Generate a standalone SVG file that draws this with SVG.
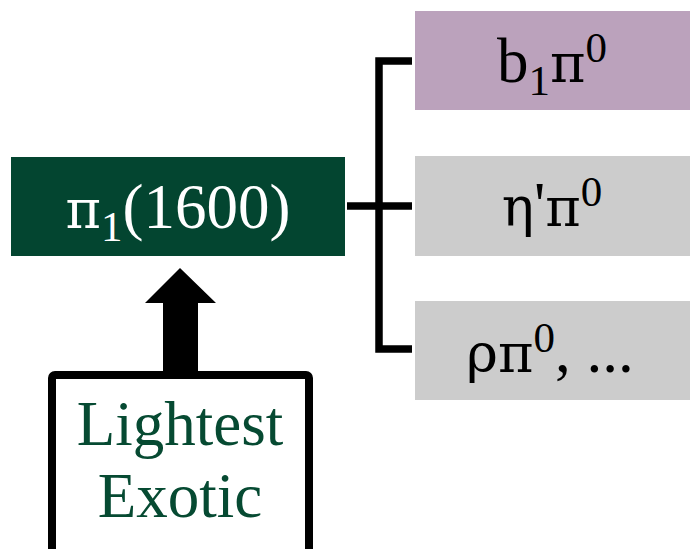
<svg xmlns="http://www.w3.org/2000/svg" width="690" height="549" viewBox="0 0 690 549">
<style>
.t{font-family:"Liberation Serif","Times New Roman",serif;font-size:63px;}
.sm{font-family:"Liberation Serif","Times New Roman",serif;font-size:43px;}
.g{font-family:"DejaVu Serif",serif;font-size:54px;}
.conn{fill:none;stroke:#000;stroke-width:7.5;}
</style>
<rect width="690" height="549" fill="#fff"/>
<g id="connectors">
<path class="conn" d="M412,61 H379 V349 H412"/>
<path class="conn" d="M347,206 H379"/>
<path class="conn" d="M379,206 H412"/>
<polygon points="180,268 216,303 198,303 198,372 163,372 163,303 145,303" fill="#000"/>
</g>
<g id="pi1">
<rect x="11" y="157" width="334" height="99" fill="#034530"/>
<text class="t" x="178" y="228" text-anchor="middle" fill="#fff"><tspan class="g">π</tspan><tspan class="sm" dy="13">1</tspan><tspan class="t" dy="-13">(1600)</tspan></text>
</g>
<g id="b1pi0">
<rect x="415" y="11" width="275" height="99" fill="#BBA2BC"/>
<text class="t" x="552" y="82" text-anchor="middle" fill="#000"><tspan class="t">b</tspan><tspan class="sm" dy="13">1</tspan><tspan class="g" dy="-13">π</tspan><tspan class="sm" dy="-20">0</tspan></text>
</g>
<g id="etapi0">
<rect x="415" y="156" width="275" height="100" fill="#CCCCCC"/>
<text class="t" x="552" y="226" text-anchor="middle" fill="#000"><tspan class="g">η</tspan><tspan class="t">'</tspan><tspan class="g">π</tspan><tspan class="sm" dy="-20">0</tspan></text>
</g>
<g id="rhopi0">
<rect x="415" y="301" width="275" height="99" fill="#CCCCCC"/>
<text class="t" x="550" y="372" text-anchor="middle" fill="#000"><tspan class="g">ρπ</tspan><tspan class="sm" dy="-20">0</tspan><tspan class="t" dy="20">, ...</tspan></text>
</g>
<g id="lightest">
<rect x="52" y="375" width="257" height="185" rx="3" fill="#fff" stroke="#000" stroke-width="8"/>
<text class="t" x="180" y="445" text-anchor="middle" fill="#064A32">Lightest</text>
<text class="t" x="180" y="517" text-anchor="middle" fill="#064A32">Exotic</text>
</g>
</svg>
